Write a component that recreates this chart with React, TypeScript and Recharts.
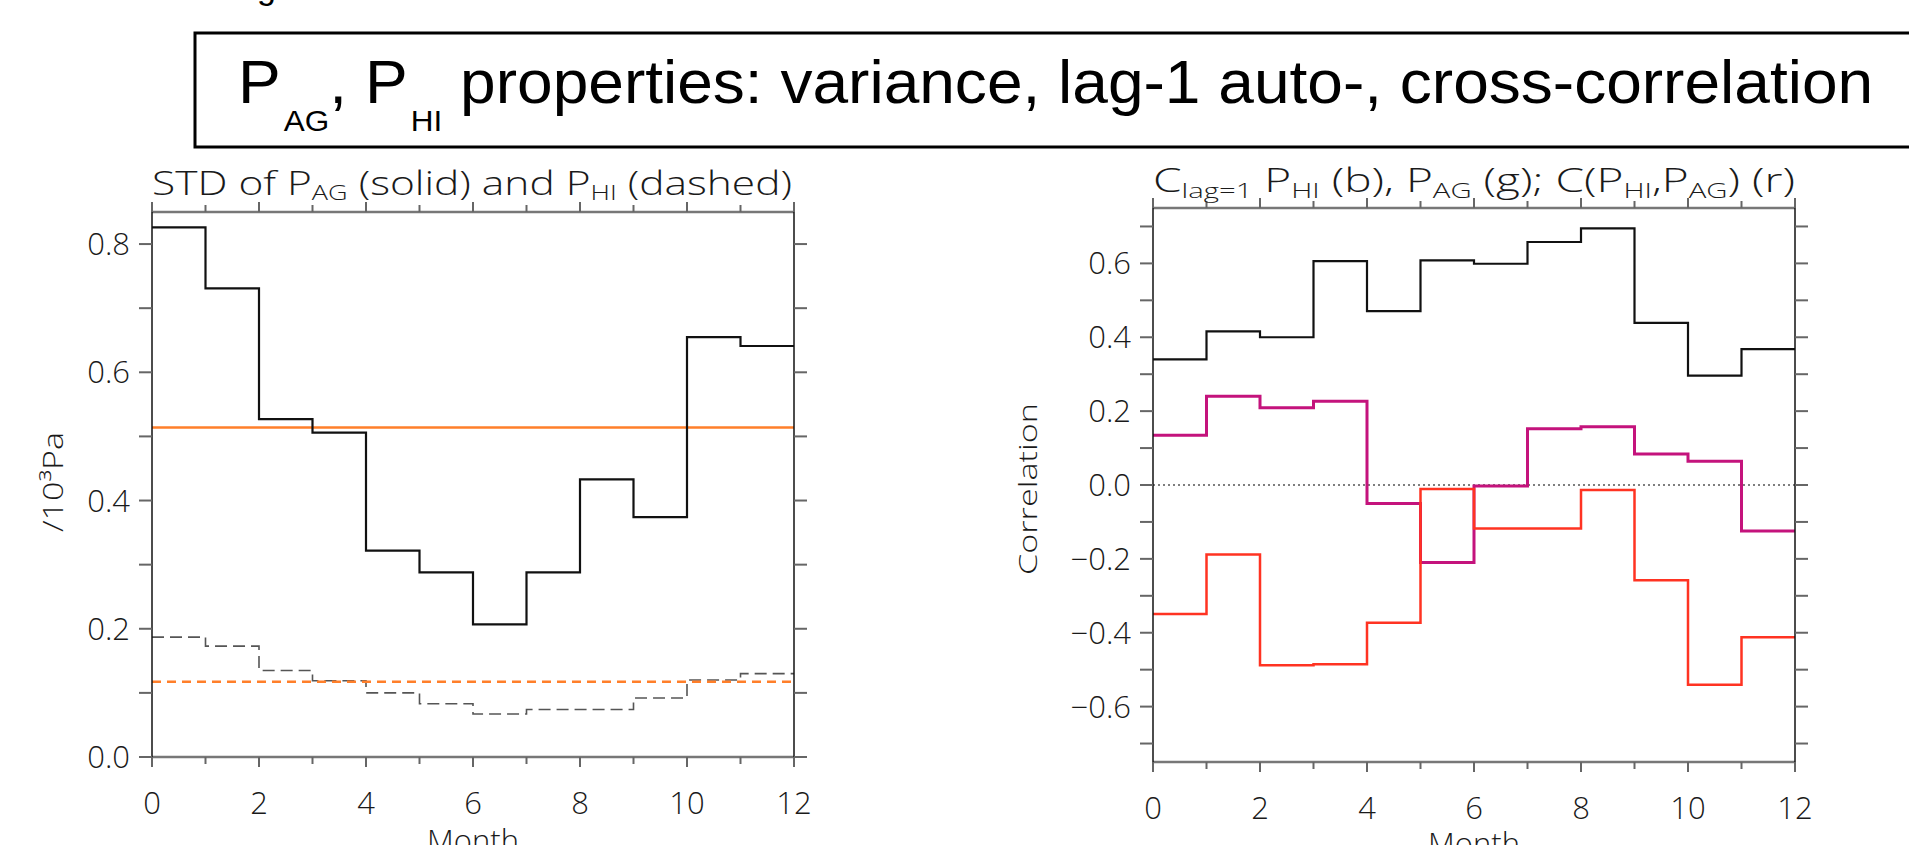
import React from 'react';
import { LineChart, Line, XAxis, YAxis, ReferenceLine } from 'recharts';

// ---------- data ----------
const monthTicks = [0, 1, 2, 3, 4, 5, 6, 7, 8, 9, 10, 11, 12];
// STD of P_AG (solid) and P_HI (dashed), one value per month bin
const stdAG = [0.826, 0.731, 0.527, 0.506, 0.322, 0.288, 0.207, 0.288, 0.433, 0.374, 0.655, 0.641];
const stdHI = [0.187, 0.173, 0.135, 0.119, 0.1, 0.083, 0.067, 0.074, 0.074, 0.092, 0.12, 0.13];
const meanStdAG = 0.514;
const meanStdHI = 0.1175;
const stdTicks = [0, 0.1, 0.2, 0.3, 0.4, 0.5, 0.6, 0.7, 0.8];
const stdDomain = [0, 0.85];

// lag-1 autocorrelation of P_HI (black), P_AG (magenta), cross-correlation (red)
const lagHI = [0.34, 0.416, 0.4, 0.606, 0.471, 0.608, 0.599, 0.658, 0.695, 0.439, 0.296, 0.368];
const lagAG = [0.1345, 0.24, 0.209, 0.2265, -0.05, -0.21, -0.003, 0.152, 0.158, 0.084, 0.064, -0.1245];
const crossCorr = [-0.349, -0.188, -0.488, -0.485, -0.373, -0.011, -0.118, -0.118, -0.0135, -0.258, -0.541, -0.412];
const corrTicks = [-0.7, -0.6, -0.5, -0.4, -0.3, -0.2, -0.1, 0, 0.1, 0.2, 0.3, 0.4, 0.5, 0.6, 0.7];
const corrDomain = [-0.75, 0.75];

// step tables (last bin repeated so the step reaches month 12)
const stdData = monthTicks.map((m, i) => ({
  month: m,
  ag: stdAG[Math.min(i, stdAG.length - 1)],
  hi: stdHI[Math.min(i, stdHI.length - 1)],
}));
const corrData = monthTicks.map((m, i) => ({
  month: m,
  hi: lagHI[Math.min(i, lagHI.length - 1)],
  ag: lagAG[Math.min(i, lagAG.length - 1)],
  cc: crossCorr[Math.min(i, crossCorr.length - 1)],
}));

// ---------- styling ----------
const PLOT_FONT = "'Open Sans', 'Liberation Sans', sans-serif";
const TITLE_FONT = "'Liberation Sans', Arial, sans-serif";
const TICK_COLOR = '#666';
const TEXT_COLOR = '#1a1a1a';
const ORANGE = '#FF7F2A';
const MAGENTA = '#C4137C';
const RED = '#FF3322';
const PLOT_WEIGHT = 300;

const fmt = (v: number) => {
  const s = Math.abs(v).toFixed(1);
  return v < -1e-9 ? '\u2212' + s : s;
};

const BottomTick = (props: any) => {
  const { x, y, payload } = props;
  const v = payload.value;
  const major = v % 2 === 0;
  return (
    <g>
      <line x1={x} y1={y} x2={x} y2={y + (major ? 10 : 7)} stroke={TICK_COLOR} strokeWidth={2} />
      {major && (
        <text x={x} y={y + 57} textAnchor="middle" fontSize={31} fill={TEXT_COLOR} fontFamily={PLOT_FONT} fontWeight={PLOT_WEIGHT}>
          {v}
        </text>
      )}
    </g>
  );
};

const TopTick = (props: any) => {
  const { x, y, payload } = props;
  const major = payload.value % 2 === 0;
  return <line x1={x} y1={y} x2={x} y2={y - (major ? 10 : 7)} stroke={TICK_COLOR} strokeWidth={2} />;
};

const LeftTick = (props: any) => {
  const { x, y, payload } = props;
  const v = payload.value;
  const major = Math.round(Math.abs(v) * 10) % 2 === 0;
  return (
    <g>
      <line x1={x} y1={y} x2={x - 13} y2={y} stroke={TICK_COLOR} strokeWidth={2} />
      {major && (
        <text x={x - 22} y={y + 11} textAnchor="end" fontSize={31} fill={TEXT_COLOR} fontFamily={PLOT_FONT} fontWeight={PLOT_WEIGHT}>
          {fmt(v)}
        </text>
      )}
    </g>
  );
};

const RightTick = (props: any) => {
  const { x, y } = props;
  return <line x1={x} y1={y} x2={x + 13} y2={y} stroke={TICK_COLOR} strokeWidth={2} />;
};

const axisCommon = { tickSize: 0, tickMargin: 0, tickLine: false, interval: 0 as const };

const StdChart = () => (
  <LineChart width={900} height={845} data={stdData} margin={{ top: 192, right: 76, bottom: 28, left: 52 }}>
    <XAxis xAxisId="bottom" dataKey="month" type="number" domain={[0, 12]} ticks={monthTicks} allowDataOverflow
      orientation="bottom" height={60} {...axisCommon} tick={BottomTick} axisLine={{ stroke: '#777', strokeWidth: 2.5 }} />
    <XAxis xAxisId="top" dataKey="month" type="number" domain={[0, 12]} ticks={monthTicks} allowDataOverflow
      orientation="top" height={20} {...axisCommon} tick={TopTick} axisLine={{ stroke: '#777', strokeWidth: 2.5 }} />
    <YAxis yAxisId="left" type="number" domain={stdDomain} ticks={stdTicks} allowDataOverflow width={100}
      {...axisCommon} tick={LeftTick} axisLine={{ stroke: '#111', strokeWidth: 1.5 }} />
    <YAxis yAxisId="right" orientation="right" type="number" domain={stdDomain} ticks={stdTicks} allowDataOverflow width={30}
      {...axisCommon} tick={RightTick} axisLine={{ stroke: '#111', strokeWidth: 1.5 }} />
    <Line xAxisId="bottom" yAxisId="left" type="stepAfter" dataKey="hi" stroke="#555" strokeWidth={1.6}
      strokeDasharray="12 6" dot={false} activeDot={false} isAnimationActive={false} />
    <ReferenceLine xAxisId="bottom" yAxisId="left" y={meanStdHI} stroke={ORANGE} strokeWidth={2.5} strokeDasharray="9 6" />
    <ReferenceLine xAxisId="bottom" yAxisId="left" y={meanStdAG} stroke={ORANGE} strokeWidth={2.5} />
    <Line xAxisId="bottom" yAxisId="left" type="stepAfter" dataKey="ag" stroke="#111" strokeWidth={2.2}
      dot={false} activeDot={false} isAnimationActive={false} />
  </LineChart>
);

const CorrChart = () => (
  <LineChart width={900} height={845} data={corrData} margin={{ top: 188, right: 25, bottom: 23, left: 103 }}>
    <XAxis xAxisId="bottom" dataKey="month" type="number" domain={[0, 12]} ticks={monthTicks} allowDataOverflow
      orientation="bottom" height={60} {...axisCommon} tick={BottomTick} axisLine={{ stroke: '#777', strokeWidth: 2.5 }} />
    <XAxis xAxisId="top" dataKey="month" type="number" domain={[0, 12]} ticks={monthTicks} allowDataOverflow
      orientation="top" height={20} {...axisCommon} tick={TopTick} axisLine={{ stroke: '#777', strokeWidth: 2.5 }} />
    <YAxis yAxisId="left" type="number" domain={corrDomain} ticks={corrTicks} allowDataOverflow width={100}
      {...axisCommon} tick={LeftTick} axisLine={{ stroke: '#111', strokeWidth: 1.5 }} />
    <YAxis yAxisId="right" orientation="right" type="number" domain={corrDomain} ticks={corrTicks} allowDataOverflow width={30}
      {...axisCommon} tick={RightTick} axisLine={{ stroke: '#111', strokeWidth: 1.5 }} />
    <ReferenceLine xAxisId="bottom" yAxisId="left" y={0} stroke="#555" strokeWidth={1.5} strokeDasharray="2 3" />
    <Line xAxisId="bottom" yAxisId="left" type="stepAfter" dataKey="hi" stroke="#111" strokeWidth={2.2}
      dot={false} activeDot={false} isAnimationActive={false} />
    <Line xAxisId="bottom" yAxisId="left" type="stepAfter" dataKey="ag" stroke={MAGENTA} strokeWidth={3}
      dot={false} activeDot={false} isAnimationActive={false} />
    <Line xAxisId="bottom" yAxisId="left" type="stepAfter" dataKey="cc" stroke={RED} strokeWidth={2.5}
      dot={false} activeDot={false} isAnimationActive={false} />
  </LineChart>
);

const Overlay = () => (
  <svg width={1909} height={845} style={{ position: 'absolute', left: 0, top: 0, pointerEvents: 'none' }}>
    {/* partial glyph cut at the top of the page */}
    <text x={257} y={-1} fontSize={34} fontFamily={TITLE_FONT} fill="#000">g</text>
    {/* main title box */}
    <rect x={195} y={33} width={1800} height={114} fill="none" stroke="#000" strokeWidth={3} />
    <g transform="translate(238,0) scale(1.05,1)">
      <text x={0} y={103} fontSize={61} fontFamily={TITLE_FONT} fill="#000">
        <tspan>P</tspan>
        <tspan fontSize={30} dx={3} dy={28}>AG</tspan>
        <tspan dy={-28}>, P</tspan>
        <tspan fontSize={30} dx={3} dy={28}>HI</tspan>
        <tspan dy={-28}> properties: variance, lag-1 auto-, cross-correlation</tspan>
      </text>
    </g>
    {/* left panel title */}
    <text x={152} y={195} fontSize={33} fontFamily={PLOT_FONT} fontWeight={PLOT_WEIGHT} fill={TEXT_COLOR}
      textLength={640} lengthAdjust="spacingAndGlyphs">
      <tspan>STD of P</tspan>
      <tspan fontSize={21} dy={5}>AG</tspan>
      <tspan dy={-5}> (solid) and P</tspan>
      <tspan fontSize={21} dy={5}>HI</tspan>
      <tspan dy={-5}> (dashed)</tspan>
    </text>
    {/* right panel title */}
    <text x={1153} y={192} fontSize={33} fontFamily={PLOT_FONT} fontWeight={PLOT_WEIGHT} fill={TEXT_COLOR}
      textLength={642} lengthAdjust="spacingAndGlyphs">
      <tspan>C</tspan>
      <tspan fontSize={21} dy={6}>lag=1</tspan>
      <tspan dy={-6}> P</tspan>
      <tspan fontSize={21} dy={6}>HI</tspan>
      <tspan dy={-6}> (b), P</tspan>
      <tspan fontSize={21} dy={6}>AG</tspan>
      <tspan dy={-6}> (g); C(P</tspan>
      <tspan fontSize={21} dy={6}>HI</tspan>
      <tspan dy={-6}>,P</tspan>
      <tspan fontSize={21} dy={6}>AG</tspan>
      <tspan dy={-6}>) (r)</tspan>
    </text>
    {/* y-axis titles */}
    <text transform="translate(63,482) rotate(-90)" textAnchor="middle" fontSize={28} fontFamily={PLOT_FONT}
      fontWeight={PLOT_WEIGHT} fill={TEXT_COLOR} textLength={100} lengthAdjust="spacingAndGlyphs">/10³Pa</text>
    <text transform="translate(1037,489) rotate(-90)" textAnchor="middle" fontSize={26} fontFamily={PLOT_FONT}
      fontWeight={PLOT_WEIGHT} fill={TEXT_COLOR} textLength={172} lengthAdjust="spacingAndGlyphs">Correlation</text>
    {/* x-axis titles (cut by the page bottom) */}
    <text x={473} y={852} textAnchor="middle" fontSize={31} fontFamily={PLOT_FONT} fontWeight={PLOT_WEIGHT} fill={TEXT_COLOR}>Month</text>
    <text x={1474} y={855} textAnchor="middle" fontSize={31} fontFamily={PLOT_FONT} fontWeight={PLOT_WEIGHT} fill={TEXT_COLOR}>Month</text>
  </svg>
);

export default function App() {
  return (
    <div style={{ position: 'absolute', left: 0, top: 0, width: 1909, height: 845, background: '#fff', overflow: 'hidden' }}>
      <div style={{ position: 'absolute', left: 0, top: 0 }}>
        <StdChart />
      </div>
      <div style={{ position: 'absolute', left: 950, top: 0 }}>
        <CorrChart />
      </div>
      <Overlay />
    </div>
  );
}
